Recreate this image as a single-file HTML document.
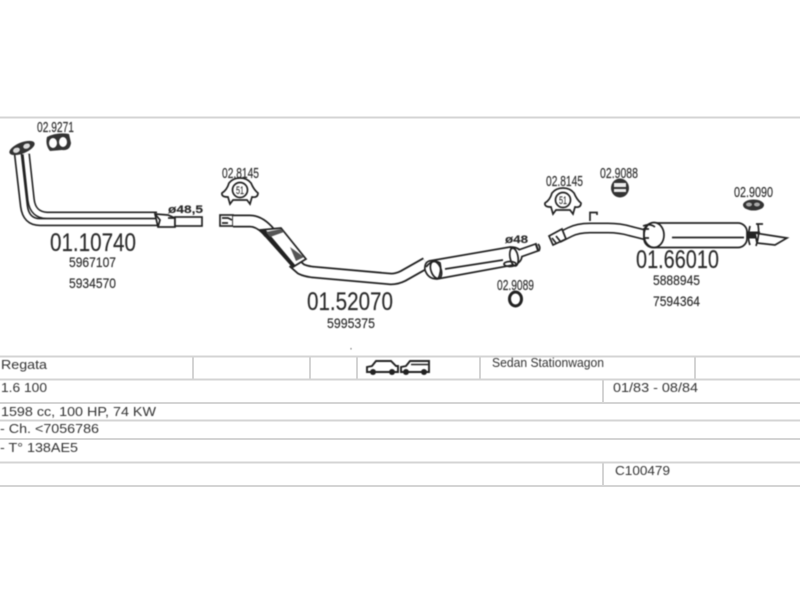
<!DOCTYPE html>
<html><head><meta charset="utf-8"><style>
html,body{margin:0;padding:0;background:#fff}
svg{display:block}
.n{font-family:"Liberation Sans",sans-serif;fill:#2b2b2b;stroke:#2b2b2b;stroke-width:.15}
.t{font-family:"Liberation Sans",sans-serif;fill:#333;font-size:12.500px;stroke:none}
.o{fill:#fff;stroke:#222;stroke-width:1.700}
.f{fill:none;stroke:#222;stroke-width:1.700}
.b{fill:none;stroke:#222;stroke-linecap:butt;stroke-linejoin:round}
.w{fill:none;stroke:#fff;stroke-linecap:butt;stroke-linejoin:round}
</style></head><body>
<svg width="800" height="600" viewBox="0 0 800 600" xmlns="http://www.w3.org/2000/svg">
<rect width="800" height="600" fill="#fff"/>
<g stroke="#d4d4d4" stroke-width="2" fill="none">
<path d="M0 117.500H800M0 356.500H800M0 379.500H800M0 403H800M0 420.500H800M0 439H800M0 462.500H800M0 486H800"/>
<path d="M193 356V379M310 356V379M357 356V379M480 356V379M695 356V379M603 379V403M603 462V486"/>
</g>
<g style="filter:blur(.45px)">
<!-- Pipe 1 -->
<path class="b" stroke-width="8" d="M26 154L31 200Q33 215 47 215.500L157 215.500"/>
<path class="w" stroke-width="4.800" d="M26 154L31 200Q33 215 47 215.500L157 215.500"/>
<path class="b" stroke-width="8.500" d="M18 154L24 206Q26 222 40 222L158 222"/>
<path class="w" stroke-width="5.200" d="M18 154L24 206Q26 222 40 222L158 222"/>
<path class="o" d="M155 214L168 215L175 218V227L158 227Z"/>
<path class="f" d="M155 214L160 220L158 227M168 218H175"/>
<rect class="o" x="175" y="217" width="27" height="9"/>
<g transform="rotate(-22 22 148)"><ellipse cx="22" cy="148" rx="13.500" ry="5.500" fill="#333"/><ellipse cx="16" cy="148" rx="3.500" ry="2.500" fill="#ddd"/><ellipse cx="27" cy="148" rx="3.500" ry="2.500" fill="#ddd"/></g>
<!-- Gasket 9271 -->
<path d="M47 137Q57 132 69 134L71 143Q70 151 62 150L50 151Q45 145 47 137Z" fill="#333"/>
<ellipse cx="53" cy="143" rx="4" ry="5" fill="#fff"/><ellipse cx="63" cy="142" rx="4" ry="5" fill="#fff"/>
<!-- Clamps -->
<g><path class="o" stroke-width="1.900" d="M229 183Q233 178 240 178Q247 178 251 183Q254 190 258 193Q258 198 252 197L250 204L247 200H233L230 204L228 197Q221 197 222 193Q227 190 229 183Z"/><circle class="o" cx="240" cy="190" r="7.500"/><text class="n" x="240" y="194" font-size="11" text-anchor="middle" textLength="8" lengthAdjust="spacingAndGlyphs">51</text></g>
<g transform="translate(323,10)"><path class="o" stroke-width="1.900" d="M229 183Q233 178 240 178Q247 178 251 183Q254 190 258 193Q258 198 252 197L250 204L247 200H233L230 204L228 197Q221 197 222 193Q227 190 229 183Z"/><circle class="o" cx="240" cy="190" r="7.500"/><text class="n" x="240" y="194" font-size="11" text-anchor="middle" textLength="8" lengthAdjust="spacingAndGlyphs">51</text></g>
<!-- Pipe 2 -->
<rect class="o" x="220" y="215" width="13" height="11"/>
<path class="f" d="M222 218H228L232 220M222 223H228"/>
<path class="b" stroke-width="13" d="M233 221H250Q260 221 270 233"/>
<path class="w" stroke-width="9.500" d="M233 221H250Q260 221 270 233"/>
<path class="b" stroke-width="12.500" d="M293 262L301 269Q305 271 312 272L391 279Q397 279 403 276L426 263"/>
<path class="w" stroke-width="9" d="M293 262L301 269Q305 271 312 272L391 279Q397 279 403 276L426 263"/>
<path class="o" d="M260 230L281 228L306 259L293 267Z"/>
<path d="M260 230L265 229L296 266L292 267Z" fill="#222"/>
<path d="M266 232L281 229L284 232L270 237Z" fill="#555"/>
<path d="M290 247L304 257L296 261Z" fill="#555"/>
<path class="o" d="M429 261L510 247Q521 247 522 255Q522 263 513 265L437 279Q428 279 425 270Q424 263 429 261Z"/>
<path class="f" d="M445 269L503 260M510 247Q516 252 515 262"/>
<ellipse class="o" cx="514" cy="257" rx="4" ry="9" transform="rotate(-10 514 257)"/>
<path class="b" stroke-width="9" d="M521 253L538 247"/>
<path class="w" stroke-width="5.600" d="M519 253.700L536 247.700"/>
<path class="f" d="M538 244Q541 247 539 251"/>
<ellipse class="o" cx="436" cy="270" rx="5" ry="9" transform="rotate(-20 436 270)"/>
<path class="f" d="M426 267Q433 258 440 263Q442 271 438 279" stroke-width="2.500"/>
<ellipse class="f" cx="510" cy="264" rx="6" ry="2.500" stroke-width="2"/>
<!-- Ring 9089 -->
<ellipse cx="515.500" cy="299" rx="6" ry="7" fill="none" stroke="#222" stroke-width="3"/>
<!-- Pipe 3 -->
<path class="b" stroke-width="11" d="M558 238L570 232Q578 228 590 228H608Q620 228 630 231L650 236"/>
<path class="w" stroke-width="7.800" d="M558 238L570 232Q578 228 590 228H608Q620 228 630 231L650 236"/>
<path class="o" d="M549 236L562 229L566 239L553 245Z"/>
<path class="f" d="M552 238L556 243M556 236L560 241"/>
<path class="f" d="M590 221V212.500H597V215"/>
<path class="b" stroke-width="7" d="M745 235H760"/>
<path class="o" d="M755 233L787 238L775 245L757 243Z"/>
<rect class="o" x="644" y="223" width="103" height="24.500" rx="9"/>
<path class="f" d="M672 237.500H744"/>
<ellipse class="o" cx="654" cy="235" rx="10" ry="12.500" stroke-width="2"/>
<path class="f" d="M643 226Q650 223 655 227"/>
<path class="f" d="M649 229H644V238H649"/>
<path class="f" stroke-width="2.400" d="M750 226Q747 238 750 245M756 224H763M758 224Q760 235 756 246"/>
<!-- 9088 -->
<ellipse cx="620" cy="188" rx="9" ry="9.500" fill="#333"/>
<rect x="614" y="183" width="12" height="4" fill="#eee"/><rect x="614" y="189" width="12" height="3" fill="#eee"/>
<!-- 9090 -->
<ellipse cx="753.500" cy="205" rx="10.500" ry="5.500" fill="#333"/>
<ellipse cx="749" cy="204.500" rx="3" ry="2" fill="#aaa"/><ellipse cx="757" cy="204.500" rx="3" ry="2" fill="#aaa"/>
<!-- Part labels -->
<text class="n" x="37" y="132" font-size="15" textLength="37" lengthAdjust="spacingAndGlyphs">02.9271</text>
<text class="n" x="50" y="251" font-size="25" textLength="86" lengthAdjust="spacingAndGlyphs">01.10740</text>
<text class="n" x="69" y="267" font-size="14" textLength="47" lengthAdjust="spacingAndGlyphs">5967107</text>
<text class="n" x="69" y="288" font-size="14" textLength="47" lengthAdjust="spacingAndGlyphs">5934570</text>
<text class="n" x="168" y="213" font-size="11" font-weight="bold" textLength="35" lengthAdjust="spacingAndGlyphs">ø48,5</text>
<text class="n" x="222" y="178" font-size="15" textLength="37" lengthAdjust="spacingAndGlyphs">02.8145</text>
<text class="n" x="307" y="310" font-size="25" textLength="86" lengthAdjust="spacingAndGlyphs">01.52070</text>
<text class="n" x="327" y="328" font-size="14" textLength="48" lengthAdjust="spacingAndGlyphs">5995375</text>
<text class="n" x="505" y="243" font-size="11" font-weight="bold" textLength="23" lengthAdjust="spacingAndGlyphs">ø48</text>
<text class="n" x="497" y="290" font-size="15" textLength="37" lengthAdjust="spacingAndGlyphs">02.9089</text>
<text class="n" x="546" y="186" font-size="15" textLength="37" lengthAdjust="spacingAndGlyphs">02.8145</text>
<text class="n" x="600" y="178" font-size="15" textLength="38" lengthAdjust="spacingAndGlyphs">02.9088</text>
<text class="n" x="734" y="197" font-size="15" textLength="39" lengthAdjust="spacingAndGlyphs">02.9090</text>
<text class="n" x="636" y="268" font-size="25" textLength="83" lengthAdjust="spacingAndGlyphs">01.66010</text>
<text class="n" x="653" y="285" font-size="14" textLength="47" lengthAdjust="spacingAndGlyphs">5888945</text>
<text class="n" x="653" y="306" font-size="14" textLength="47" lengthAdjust="spacingAndGlyphs">7594364</text>
<!-- Table text -->
<text class="t" x="1" y="369" textLength="46" lengthAdjust="spacingAndGlyphs">Regata</text>
<text class="t" x="1" y="392" textLength="46" lengthAdjust="spacingAndGlyphs">1.6 100</text>
<text class="t" x="1" y="416" textLength="155" lengthAdjust="spacingAndGlyphs">1598 cc, 100 HP, 74 KW</text>
<text class="t" x="0" y="433" textLength="99" lengthAdjust="spacingAndGlyphs">- Ch. &lt;7056786</text>
<text class="t" x="0" y="452" textLength="78" lengthAdjust="spacingAndGlyphs">- T° 138AE5</text>
<text class="t" x="492" y="367" textLength="112" lengthAdjust="spacingAndGlyphs">Sedan Stationwagon</text>
<text class="t" x="613" y="392" textLength="85" lengthAdjust="spacingAndGlyphs">01/83 - 08/84</text>
<text class="t" x="615" y="475" textLength="55" lengthAdjust="spacingAndGlyphs">C100479</text>
<!-- Cars -->
<path d="M367 371V367L372 366L376 361H391L396 366H398V372H367Z" fill="#fff" stroke="#222" stroke-width="1.900"/>
<circle cx="373" cy="372" r="3" fill="#222"/><circle cx="392" cy="372" r="3" fill="#222"/>
<path d="M401 370V367L406 366L410 361H429V372H401Z" fill="#fff" stroke="#222" stroke-width="1.900"/>
<path d="M411 364.500H428" stroke="#222" stroke-width="1.500"/>
<circle cx="406" cy="372" r="3" fill="#222"/><circle cx="424" cy="372" r="3" fill="#222"/>
<rect x="350.500" y="348" width="1" height="1.500" fill="#666"/>
</g>
</svg>
</body></html>
